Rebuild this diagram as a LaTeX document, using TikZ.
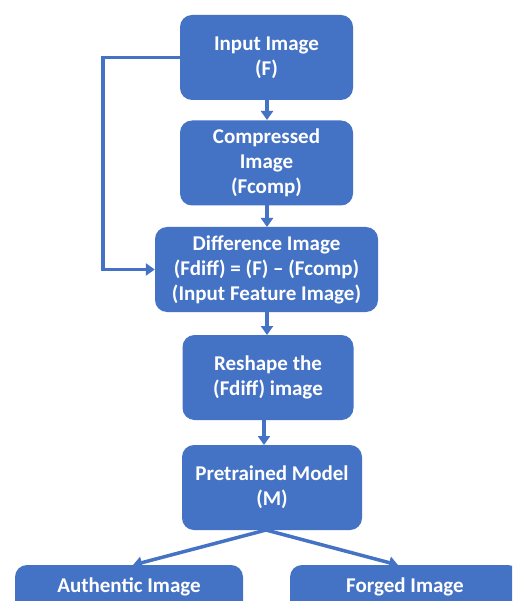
\documentclass[tikz,border=0pt]{standalone}
\usepackage{fontspec}
\setmainfont{Carlito}
\usetikzlibrary{arrows.meta}
\definecolor{offblue}{RGB}{68,114,196}
\begin{document}
\begin{tikzpicture}[x=1pt,y=-1pt,
  txt/.style={font=\fontsize{21}{25}\selectfont\bfseries},
  blk/.style={fill=offblue, draw=none, rounded corners=12pt, text=white,
    txt, align=center, inner sep=0pt, minimum height=85pt},
  conn/.style={draw=offblue, line width=3.5pt, -{Triangle[width=12pt,length=9pt]}}]
\useasboundingbox (0,0) rectangle (512,601);
\clip (0,0) rectangle (512,601);
\fill[white] (0,0) rectangle (512,601);
\node[blk, minimum width=173pt] (in) at (266.5,57.5) {Input Image\\(F)};
\node[blk, minimum width=173pt] (cmp) at (266.5,163) {Compressed\\Image\\(Fcomp)};
\node[blk, minimum width=223pt] (dif) at (266.5,269.5) {Difference Image\\(Fdiff) = (F) -- (Fcomp)\\(Input Feature Image)};
\node[blk, minimum width=171pt] (rsh) at (268,377.5) {Reshape the\\(Fdiff) image};
\node[blk, minimum width=180pt] (pre) at (272,487.5) {Pretrained Model\\(M)};
\node[fill=offblue, rounded corners=12pt, minimum width=228pt, minimum height=85pt, inner sep=0pt] (aut) at (129,607.5) {};
\node[fill=offblue, rounded corners=12pt, minimum width=230pt, minimum height=85pt, inner sep=0pt] (frg) at (405,607.5) {};
\node[text=white, txt, inner sep=0pt] (autt) at (129,587) {Authentic Image};
\node[text=white, txt, inner sep=0pt] (frgt) at (405,587) {Forged Image};
\coordinate (fork) at (266,530);
\draw[conn] (267,100) -- (267,120);
\draw[conn] (267,205.5) -- (267,227);
\draw[conn] (267,312) -- (267,335);
\draw[conn] (264,420) -- (264,445);
\draw[conn] (in.west) -- (103,57.5) |- (dif.west);
\draw[conn] (fork) -- (133,565);
\draw[conn] (fork) -- (398,565);
\end{tikzpicture}
\end{document}
